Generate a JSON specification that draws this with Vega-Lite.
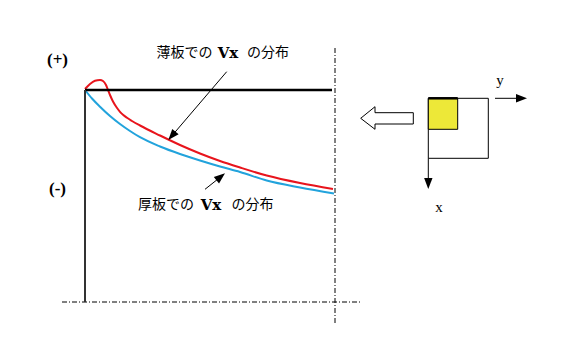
{
  "$schema": "https://vega.github.io/schema/vega-lite/v6.json",
  "width": 563,
  "height": 360,
  "autosize": {"type": "fit", "contains": "padding"},
  "padding": 0,
  "background": "white",
  "config": {"view": {"stroke": null}},
  "datasets": {
    "red": [
      {"x": 85, "y": 89}, {"x": 90, "y": 84}, {"x": 95, "y": 80.8}, {"x": 100, "y": 80},
      {"x": 103, "y": 81}, {"x": 106, "y": 85}, {"x": 108, "y": 90}, {"x": 110, "y": 95},
      {"x": 113, "y": 101.5}, {"x": 116.7, "y": 107.5}, {"x": 120, "y": 111.8}, {"x": 123.3, "y": 115},
      {"x": 127, "y": 117.8}, {"x": 132, "y": 121}, {"x": 140, "y": 125.5}, {"x": 160, "y": 135.5}, {"x": 180, "y": 145},
      {"x": 200, "y": 153.5}, {"x": 220, "y": 161}, {"x": 240, "y": 167.5}, {"x": 266.7, "y": 175.5},
      {"x": 300, "y": 183}, {"x": 333, "y": 189}
    ],
    "blue": [
      {"x": 85, "y": 90}, {"x": 92, "y": 98.5}, {"x": 100, "y": 106.7}, {"x": 110, "y": 116},
      {"x": 120, "y": 124}, {"x": 130, "y": 131}, {"x": 140, "y": 137.2}, {"x": 160, "y": 146.5},
      {"x": 180, "y": 154}, {"x": 200, "y": 160.5}, {"x": 220, "y": 166.5}, {"x": 240, "y": 172},
      {"x": 266.7, "y": 180.5}, {"x": 300, "y": 187.5}, {"x": 334, "y": 193.5}
    ],
    "thickLines": [
      {"x": 85, "y": 90, "x2": 332, "y2": 90},
      {"x": 428.3, "y": 98.3, "x2": 457.7, "y2": 98.3}
    ],
    "axisLine": [
      {"x": 85, "y": 90, "x2": 85, "y2": 302}
    ],
    "thinLines": [
      {"x": 226.7, "y": 71.7, "x2": 170, "y2": 138},
      {"x": 205, "y": 189.3, "x2": 223, "y2": 175},
      {"x": 495, "y": 98.3, "x2": 524, "y2": 98.3},
      {"x": 428.3, "y": 158.3, "x2": 428.3, "y2": 186}
    ],
    "dashLines": [
      {"x": 335, "y": 48, "x2": 335, "y2": 323},
      {"x": 62, "y": 302, "x2": 360, "y2": 302}
    ],
    "heads": [
      {"x": 168.3, "y": 140, "a": 220.5},
      {"x": 225, "y": 173.3, "a": 51.3},
      {"x": 527, "y": 98.3, "a": 90},
      {"x": 428.3, "y": 189, "a": 180}
    ],
    "hollow": [
      {"x": 413.3, "y": 112.7, "o": 1}, {"x": 375, "y": 112.7, "o": 2}, {"x": 375, "y": 106.7, "o": 3},
      {"x": 360.7, "y": 118.3, "o": 4}, {"x": 375, "y": 129.3, "o": 5}, {"x": 375, "y": 124, "o": 6},
      {"x": 413.3, "y": 124, "o": 7}, {"x": 413.3, "y": 112.7, "o": 8}
    ],
    "outerBox": [
      {"x": 428.3, "y": 98.3, "x2": 488.3, "y2": 158.3}
    ],
    "yellowBox": [
      {"x": 428.3, "y": 98.3, "x2": 457.7, "y2": 129.3}
    ],
    "signs": [
      {"x": 57.5, "y": 60, "t": "(+)"},
      {"x": 57.5, "y": 189, "t": "(-)"}
    ],
    "vx": [
      {"x": 228, "y": 53, "t": "Vx"},
      {"x": 211, "y": 205, "t": "Vx"}
    ],
    "serifPlain": [
      {"x": 500, "y": 80, "t": "y"},
      {"x": 439, "y": 207, "t": "x"}
    ],
    "jp": [
      {"x": 184.5, "y": 53, "t": "薄板での"},
      {"x": 268, "y": 53, "t": "の分布"},
      {"x": 166, "y": 205, "t": "厚板での"},
      {"x": 252.5, "y": 205, "t": "の分布"}
    ]
  },
  "encoding": {
    "x": {"field": "x", "type": "quantitative", "scale": {"domain": [0, 563], "nice": false, "zero": false}, "axis": null},
    "y": {"field": "y", "type": "quantitative", "scale": {"domain": [360, 0], "nice": false, "zero": false}, "axis": null}
  },
  "layer": [
    {
      "data": {"name": "outerBox"},
      "mark": {"type": "rect", "fill": null, "fillOpacity": 0, "stroke": "#000000", "strokeWidth": 1},
      "encoding": {"x2": {"field": "x2"}, "y2": {"field": "y2"}}
    },
    {
      "data": {"name": "yellowBox"},
      "mark": {"type": "rect", "fill": "#ede838", "stroke": "#000000", "strokeWidth": 1},
      "encoding": {"x2": {"field": "x2"}, "y2": {"field": "y2"}}
    },
    {
      "data": {"name": "dashLines"},
      "mark": {"type": "rule", "color": "#000000", "strokeWidth": 1, "strokeDash": [5, 2, 1, 2]},
      "encoding": {"x2": {"field": "x2"}, "y2": {"field": "y2"}}
    },
    {
      "data": {"name": "blue"},
      "mark": {"type": "line", "color": "#22a3dc", "strokeWidth": 2, "interpolate": "monotone"},
      "encoding": {}
    },
    {
      "data": {"name": "red"},
      "mark": {"type": "line", "color": "#e8141c", "strokeWidth": 2, "interpolate": "monotone"},
      "encoding": {}
    },
    {
      "data": {"name": "thickLines"},
      "mark": {"type": "rule", "color": "#000000", "strokeWidth": 2.5},
      "encoding": {"x2": {"field": "x2"}, "y2": {"field": "y2"}}
    },
    {
      "data": {"name": "axisLine"},
      "mark": {"type": "rule", "color": "#333333", "strokeWidth": 2},
      "encoding": {"x2": {"field": "x2"}, "y2": {"field": "y2"}}
    },
    {
      "data": {"name": "thinLines"},
      "mark": {"type": "rule", "color": "#000000", "strokeWidth": 1},
      "encoding": {"x2": {"field": "x2"}, "y2": {"field": "y2"}}
    },
    {
      "data": {"name": "heads"},
      "mark": {"type": "point", "shape": "M0,0L-0.42,1.1L0.42,1.1Z", "filled": true, "color": "#000000", "opacity": 1, "size": 400},
      "encoding": {"angle": {"field": "a", "type": "quantitative", "scale": null}}
    },
    {
      "data": {"name": "hollow"},
      "mark": {"type": "line", "color": "#000000", "strokeWidth": 1},
      "encoding": {"order": {"field": "o", "type": "quantitative"}}
    },
    {
      "data": {"name": "signs"},
      "mark": {"type": "text", "font": "Liberation Serif", "fontWeight": "bold", "fontSize": 17, "align": "center", "baseline": "middle", "color": "#000000"},
      "encoding": {"text": {"field": "t"}}
    },
    {
      "data": {"name": "vx"},
      "mark": {"type": "text", "font": "DejaVu Serif", "fontWeight": "bold", "fontSize": 15, "align": "center", "baseline": "middle", "color": "#000000"},
      "encoding": {"text": {"field": "t"}}
    },
    {
      "data": {"name": "serifPlain"},
      "mark": {"type": "text", "font": "Liberation Serif", "fontSize": 15, "align": "center", "baseline": "middle", "color": "#000000"},
      "encoding": {"text": {"field": "t"}}
    },
    {
      "data": {"name": "jp"},
      "mark": {"type": "text", "font": "Noto Sans CJK JP", "fontSize": 14, "align": "center", "baseline": "middle", "color": "#000000"},
      "encoding": {"text": {"field": "t"}}
    }
  ]
}
